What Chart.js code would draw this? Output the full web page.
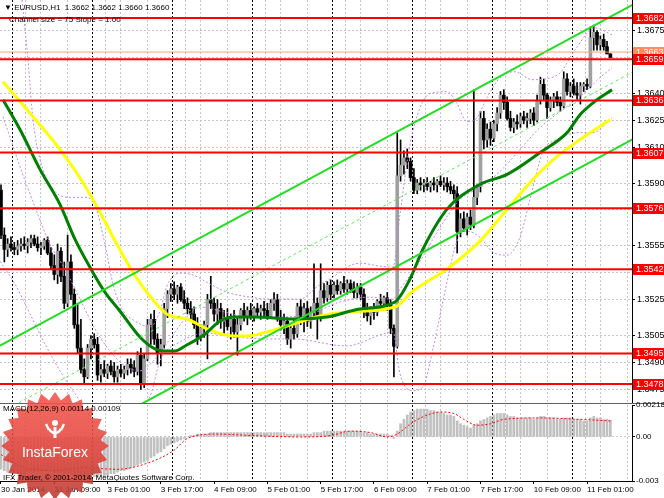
<!DOCTYPE html>
<html>
<head>
<meta charset="utf-8">
<script src="https://cdn.jsdelivr.net/npm/chart.js@4.4.1/dist/chart.umd.min.js"></script>
<style>
  body { margin:0; width:664px; height:498px; overflow:hidden; background:#fff; position:relative; font-family:"Liberation Sans", Arial, sans-serif; }
  canvas { position:absolute; left:0; }
  #main { top:0; }
  #macd { top:388px; }
  .lbl { position:absolute; font-size:8px; line-height:9px; color:#000; white-space:nowrap; }
</style>
</head>
<body>
<canvas id="main" width="664" height="404"></canvas>
<canvas id="macd" width="664" height="110"></canvas>
<div class="lbl" style="left:4px;top:3px">&#9660; EURUSD,H1&nbsp; 1.3662 1.3662 1.3660 1.3660</div>
<div class="lbl" style="left:9px;top:15px">Channel size = 75 Slope = 1.00</div>
<div class="lbl" style="left:3px;top:404px">MACD(12,26,9) 0.00114 0.00109</div>
<div class="lbl" style="left:3px;top:473px">IFX Trader, &copy; 2001-2014, MetaQuotes Software Corp.</div>
<script>
// EURUSD H1, one entry per hourly bar, bar 0 = 30 Jan 2014 17:00
var opens = [
 1.3586,1.3561,1.3553,1.3556,1.3554,1.3553,1.3555,1.3556,1.3555,1.3557,
 1.3559,1.3556,1.3554,1.3555,1.3558,1.3551,1.3544,1.3539,1.3552,1.3538,
 1.3523,1.3546,1.3528,1.3511,1.3498,1.3486,1.3482,1.3498,1.3503,1.3500,
 1.3483,1.3486,1.3484,1.3488,1.3485,1.3482,1.3486,1.3484,1.3486,1.3489,
 1.3487,1.3485,1.3494,1.3478,1.3492,1.3511,1.3514,1.3503,1.3495,1.3500,
 1.3520,1.3528,1.3531,1.3528,1.3532,1.3525,1.3523,1.3520,1.3517,1.3511,
 1.3504,1.3509,1.3511,1.3525,1.3523,1.3517,1.3520,1.3513,1.3515,1.3510,
 1.3514,1.3507,1.3511,1.3519,1.3515,1.3519,1.3516,1.3520,1.3518,1.3520,
 1.3519,1.3516,1.3523,1.3525,1.3515,1.3511,1.3513,1.3503,1.3509,1.3506,
 1.3521,1.3515,1.3520,1.3513,1.3518,1.3523,1.3515,1.3530,1.3526,1.3533,
 1.3528,1.3533,1.3530,1.3534,1.3531,1.3534,1.3531,1.3529,1.3532,1.3528,
 1.3519,1.3516,1.3520,1.3518,1.3524,1.3523,1.3526,1.3522,1.3509,1.3499,
 1.3594,1.3600,1.3604,1.3602,1.3593,1.3586,1.3590,1.3589,1.3590,1.3588,
 1.3590,1.3589,1.3591,1.3589,1.3590,1.3588,1.3586,1.3584,1.3563,1.3570,
 1.3565,1.3571,1.3567,1.3582,1.3588,1.3626,1.3614,1.3620,1.3615,1.3623,
 1.3629,1.3639,1.3635,1.3626,1.3621,1.3624,1.3623,1.3627,1.3625,1.3626,
 1.3629,1.3625,1.3636,1.3645,1.3639,1.3632,1.3636,1.3638,1.3635,1.3633,
 1.3648,1.3641,1.3644,1.3640,1.3639,1.3644,1.3645,1.3644,1.3671,1.3674,
 1.3667,1.3670,1.3666,1.3662
];
var highs = [
 1.3589,1.3565,1.3559,1.3560,1.3557,1.3558,1.3559,1.3560,1.3559,1.3561,
 1.3561,1.3560,1.3557,1.3559,1.3560,1.3554,1.3550,1.3556,1.3554,1.3546,
 1.3561,1.3550,1.3531,1.3523,1.3514,1.3492,1.3500,1.3505,1.3506,1.3504,
 1.3489,1.3491,1.3489,1.3491,1.3490,1.3488,1.3489,1.3488,1.3492,1.3492,
 1.3491,1.3496,1.3498,1.3495,1.3514,1.3517,1.3519,1.3506,1.3503,1.3523,
 1.3530,1.3534,1.3535,1.3533,1.3534,1.3530,1.3526,1.3524,1.3521,1.3515,
 1.3511,1.3513,1.3528,1.3538,1.3526,1.3525,1.3523,1.3519,1.3520,1.3517,
 1.3519,1.3515,1.3520,1.3523,1.3521,1.3523,1.3521,1.3523,1.3522,1.3524,
 1.3523,1.3525,1.3529,1.3528,1.3519,1.3517,1.3515,1.3511,1.3514,1.3523,
 1.3525,1.3523,1.3524,1.3521,1.3545,1.3526,1.3545,1.3534,1.3535,1.3536,
 1.3535,1.3536,1.3535,1.3538,1.3536,1.3536,1.3535,1.3534,1.3534,1.3531,
 1.3523,1.3521,1.3523,1.3525,1.3528,1.3527,1.3529,1.3525,1.3511,1.3618,
 1.3614,1.3608,1.3609,1.3604,1.3598,1.3592,1.3593,1.3592,1.3593,1.3591,
 1.3593,1.3592,1.3594,1.3593,1.3593,1.3591,1.3589,1.3588,1.3573,1.3574,
 1.3573,1.3575,1.3642,1.3589,1.3630,1.3630,1.3623,1.3624,1.3625,1.3632,
 1.3641,1.3642,1.3638,1.3630,1.3626,1.3628,1.3629,1.3630,1.3629,1.3631,
 1.3632,1.3639,1.3649,1.3648,1.3640,1.3638,1.3640,1.3641,1.3638,1.3652,
 1.3651,1.3646,1.3648,1.3646,1.3646,1.3646,1.3648,1.3677,1.3678,1.3675,
 1.3672,1.3673,1.3669,1.3662
];
var lows = [
 1.3559,1.3546,1.3549,1.3552,1.3550,1.3550,1.3552,1.3553,1.3551,1.3554,
 1.3555,1.3552,1.3550,1.3553,1.3550,1.3542,1.3536,1.3534,1.3535,1.3520,
 1.3521,1.3525,1.3509,1.3495,1.3484,1.3478,1.3481,1.3492,1.3498,1.3480,
 1.3479,1.3482,1.3481,1.3483,1.3479,1.3479,1.3482,1.3481,1.3483,1.3484,
 1.3482,1.3483,1.3475,1.3476,1.3491,1.3500,1.3500,1.3489,1.3488,1.3498,
 1.3515,1.3524,1.3525,1.3523,1.3524,1.3520,1.3517,1.3514,1.3509,1.3500,
 1.3502,1.3504,1.3492,1.3520,1.3513,1.3511,1.3509,1.3506,1.3508,1.3503,
 1.3504,1.3494,1.3508,1.3513,1.3511,1.3514,1.3513,1.3515,1.3514,1.3516,
 1.3514,1.3515,1.3519,1.3513,1.3508,1.3506,1.3500,1.3498,1.3503,1.3504,
 1.3511,1.3507,1.3510,1.3509,1.3514,1.3503,1.3513,1.3523,1.3524,1.3525,
 1.3526,1.3528,1.3528,1.3529,1.3528,1.3529,1.3526,1.3526,1.3525,1.3515,
 1.3513,1.3511,1.3514,1.3516,1.3520,1.3521,1.3519,1.3506,1.3482,1.3498,
 1.3591,1.3595,1.3598,1.3591,1.3584,1.3584,1.3586,1.3585,1.3586,1.3585,
 1.3586,1.3585,1.3588,1.3586,1.3585,1.3584,1.3581,1.3551,1.3560,1.3563,
 1.3561,1.3564,1.3565,1.3578,1.3585,1.3609,1.3610,1.3611,1.3613,1.3619,
 1.3626,1.3631,1.3625,1.3619,1.3618,1.3620,1.3621,1.3623,1.3621,1.3623,
 1.3622,1.3624,1.3634,1.3636,1.3626,1.3630,1.3632,1.3633,1.3630,1.3632,
 1.3639,1.3638,1.3639,1.3636,1.3634,1.3641,1.3642,1.3643,1.3664,1.3664,
 1.3664,1.3664,1.3662,1.3660
];
var closes = [
 1.3561,1.3553,1.3556,1.3554,1.3553,1.3555,1.3556,1.3555,1.3557,1.3559,
 1.3556,1.3554,1.3555,1.3558,1.3551,1.3544,1.3539,1.3552,1.3538,1.3523,
 1.3546,1.3528,1.3511,1.3498,1.3486,1.3482,1.3498,1.3503,1.3500,1.3483,
 1.3486,1.3484,1.3488,1.3485,1.3482,1.3486,1.3484,1.3486,1.3489,1.3487,
 1.3485,1.3494,1.3478,1.3492,1.3511,1.3514,1.3503,1.3495,1.3500,1.3520,
 1.3528,1.3531,1.3528,1.3532,1.3525,1.3523,1.3520,1.3517,1.3511,1.3504,
 1.3509,1.3511,1.3525,1.3523,1.3517,1.3520,1.3513,1.3515,1.3510,1.3514,
 1.3507,1.3511,1.3519,1.3515,1.3519,1.3516,1.3520,1.3518,1.3520,1.3519,
 1.3516,1.3523,1.3525,1.3515,1.3511,1.3513,1.3503,1.3509,1.3506,1.3521,
 1.3515,1.3520,1.3513,1.3518,1.3523,1.3515,1.3530,1.3526,1.3533,1.3528,
 1.3533,1.3530,1.3534,1.3531,1.3534,1.3531,1.3529,1.3532,1.3528,1.3519,
 1.3516,1.3520,1.3518,1.3524,1.3523,1.3526,1.3522,1.3509,1.3499,1.3594,
 1.3600,1.3604,1.3602,1.3593,1.3586,1.3590,1.3589,1.3590,1.3588,1.3590,
 1.3589,1.3591,1.3589,1.3590,1.3588,1.3586,1.3584,1.3563,1.3570,1.3565,
 1.3571,1.3567,1.3582,1.3588,1.3626,1.3614,1.3620,1.3615,1.3623,1.3629,
 1.3639,1.3635,1.3626,1.3621,1.3624,1.3623,1.3627,1.3625,1.3626,1.3629,
 1.3625,1.3636,1.3645,1.3639,1.3632,1.3636,1.3638,1.3635,1.3633,1.3648,
 1.3641,1.3644,1.3640,1.3639,1.3644,1.3645,1.3644,1.3671,1.3674,1.3667,
 1.3670,1.3666,1.3662,1.3660
];

// moving averages at a few bars
var greenBars   = [0.6, 5.7, 11.7, 17.7, 22.2, 26.7, 31.2, 35.7, 41.7, 46.2, 49.2, 52.3, 55.3, 61.3, 65.8, 70.3, 76.3, 87.7, 97.9, 107.8, 118.3, 122.8, 126.7, 133.9, 143.8, 152, 161.9, 170, 173.9, 179, 183.5];
var greenPrices = [1.36364, 1.36198, 1.35976, 1.35781, 1.35587, 1.35431, 1.35292, 1.35187, 1.35042, 1.34976, 1.34964, 1.34964, 1.34992, 1.35059, 1.35131, 1.35153, 1.35153, 1.35142, 1.35153, 1.35198, 1.35237, 1.35364, 1.35531, 1.35753, 1.35892, 1.35948, 1.3607, 1.36181, 1.36281, 1.36364, 1.3642];
var yellowBars   = [0.6, 7.8, 17.7, 24.6, 29.7, 34.8, 39.6, 44.7, 49.8, 55.9, 61.9, 69.7, 73.9, 79.9, 85.9, 95.8, 103.9, 118.3, 123.7, 133.9, 143.8, 152, 158.9, 167, 173.9, 182.9];
var yellowPrices = [1.36464, 1.36309, 1.36087, 1.35903, 1.35737, 1.35559, 1.35403, 1.3527, 1.3517, 1.35142, 1.35087, 1.35048, 1.35048, 1.3507, 1.35103, 1.35159, 1.35181, 1.35209, 1.35298, 1.3542, 1.35576, 1.35753, 1.35903, 1.36048, 1.36142, 1.36253];

// Bollinger bands (violet dots): upper, middle, lower
var upperBars   = [6.31, 8.11, 9.61, 12.61, 16.22, 20.72, 25.23, 28.23, 31.23, 33.63, 36.34, 40.24, 44.74, 47.75, 49.85, 53.75, 57.66, 62.76, 67.87, 74.77, 81.68, 89.79, 95.2, 99.7, 103.9, 107.81, 113.81, 117.72, 119.82, 122.82, 125.83, 128.83, 133.93, 136.94, 139.94, 142.94, 145.95, 149.85, 154.35, 159.46, 167.27, 172.37, 178.38, 183.48];
var upperPrices = [1.3692, 1.36587, 1.36253, 1.35976, 1.35853, 1.3582, 1.3582, 1.35776, 1.35559, 1.35337, 1.35198, 1.35131, 1.35098, 1.35187, 1.35326, 1.35398, 1.35387, 1.35337, 1.35292, 1.35264, 1.35253, 1.35253, 1.35326, 1.35376, 1.35431, 1.35453, 1.35437, 1.35431, 1.35726, 1.36114, 1.3632, 1.36398, 1.36409, 1.36342, 1.36242, 1.36264, 1.36376, 1.36487, 1.3652, 1.36476, 1.36503, 1.36642, 1.36764, 1.36726];
var middleBars   = [0.6, 5.71, 10.81, 14.71, 19.22, 23.72, 28.23, 32.73, 37.24, 41.74, 46.25, 50.75, 55.26, 59.76, 65.77, 74.77, 83.78, 92.79, 101.8, 110.81, 117.72, 119.82, 125.83, 131.83, 137.84, 143.84, 149.85, 155.86, 161.86, 167.87, 173.87, 179.88, 183.48];
var middlePrices = [1.3627, 1.35992, 1.35737, 1.35559, 1.3542, 1.35253, 1.35087, 1.34964, 1.34881, 1.34853, 1.3492, 1.35031, 1.35142, 1.35209, 1.35187, 1.35153, 1.35153, 1.3517, 1.35237, 1.35264, 1.35253, 1.35309, 1.35464, 1.35653, 1.35809, 1.35876, 1.35964, 1.36087, 1.36209, 1.36298, 1.36381, 1.36487, 1.36542];
var lowerBars   = [-0.3, 4.2, 8.71, 13.21, 17.72, 22.22, 26.73, 38.74, 44.74, 47.75, 53.75, 61.86, 67.87, 79.88, 87.69, 103.9, 113.81, 117.72, 119.82, 123.72, 126.73, 129.73, 133.93, 136.94, 139.94, 143.84, 147.75, 151.95, 155.86, 158.86, 162.76, 166.97, 173.87, 177.78, 183.48];
var lowerPrices = [1.35464, 1.35337, 1.3517, 1.35003, 1.34853, 1.34726, 1.34631, 1.34631, 1.34709, 1.34909, 1.35014, 1.35064, 1.35048, 1.35031, 1.35031, 1.34992, 1.35053, 1.3507, 1.34837, 1.34742, 1.34764, 1.34976, 1.35348, 1.35576, 1.35631, 1.35598, 1.35514, 1.35498, 1.35598, 1.35809, 1.36076, 1.36142, 1.36181, 1.36181, 1.36264];

// equidistant channel, 75 pips wide, slope 1 pip per bar
var chanBars   = [-1, 190];
var chanUpper  = [1.34987, 1.36897];
var chanMiddle = [1.34612, 1.36522];
var chanLower  = [1.34237, 1.36147];

// horizontal levels
var levels = [1.3682, 1.3659, 1.3636, 1.3607, 1.3576, 1.3542, 1.3495, 1.3478];
var askPrice = 1.3663;

// MACD(12,26,9) main value per bar, signal at a few bars
var macdHist = [
 -0.0022,-0.0023,-0.0024,-0.0024,-0.0025,-0.0025,-0.0025,-0.0025,-0.0024,-0.0024,
 -0.0024,-0.0023,-0.0023,-0.0023,-0.0023,-0.0023,-0.0024,-0.0024,-0.0024,-0.0025,
 -0.0025,-0.0025,-0.0026,-0.0026,-0.0027,-0.0027,-0.0027,-0.0027,-0.0027,-0.0027,
 -0.0027,-0.0027,-0.0026,-0.0025,-0.0025,-0.0024,-0.0023,-0.0023,-0.0022,-0.0021,
 -0.0020,-0.0019,-0.0018,-0.0017,-0.0016,-0.0014,-0.0013,-0.0011,-0.0010,-0.0008,
 -0.0006,-0.0005,-0.0004,-0.0003,-0.0002,-0.0001,0.0000,0.0001,0.0001,0.0002,
 0.0002,0.0002,0.0002,0.0003,0.0003,0.0003,0.0003,0.0003,0.0003,0.0003,
 0.0003,0.0003,0.0003,0.0003,0.0003,0.0003,0.0003,0.0003,0.0003,0.0003,
 0.0003,0.0003,0.0003,0.0003,0.0003,0.0003,0.0002,0.0002,0.0002,0.0002,
 0.0002,0.0002,0.0002,0.0002,0.0003,0.0003,0.0003,0.0004,0.0004,0.0004,
 0.0004,0.0004,0.0004,0.0004,0.0004,0.0004,0.0004,0.0004,0.0004,0.0003,
 0.0003,0.0002,0.0002,0.0002,0.0002,0.0002,0.0002,0.0001,-0.0001,0.0004,
 0.0009,0.0012,0.0015,0.0017,0.0018,0.0019,0.0019,0.0019,0.0019,0.0018,
 0.0018,0.0017,0.0017,0.0016,0.0015,0.0015,0.0014,0.0011,0.0009,0.0008,
 0.0007,0.0006,0.0008,0.0009,0.0011,0.0012,0.0013,0.0014,0.0015,0.0016,
 0.0016,0.0016,0.0015,0.0014,0.0014,0.0013,0.0013,0.0013,0.0013,0.0013,
 0.0012,0.0013,0.0014,0.0014,0.0013,0.0013,0.0013,0.0012,0.0012,0.0013,
 0.0013,0.0013,0.0012,0.0012,0.0012,0.0011,0.0011,0.0013,0.0014,0.0013,
 0.0013,0.0012,0.0012,0.00114
];
var signalBars   = [0, 6, 15, 25, 35, 45, 52, 56, 65, 75, 90, 99, 105, 111, 116, 119, 123, 127, 132, 136, 139, 143, 147, 151, 162, 174, 183];
var signalValues = [-0.0012, -0.0020, -0.0023, -0.0021, -0.0022, -0.0017, -0.0009, -0.0001, 0.0002, 0.0001, 0.0000, 0.0001, 0.0004, 0.0003, 0.0000, 0.0002, 0.0009, 0.0014, 0.0017, 0.0016, 0.0012, 0.0008, 0.0009, 0.0012, 0.0013, 0.0012, 0.00109];

// axes
var priceTicks = [1.3675, 1.3660, 1.3640, 1.3625, 1.3610, 1.3590, 1.3575, 1.3555, 1.3540, 1.3525, 1.3505, 1.3490, 1.3475];
var tickBars   = [0, 16, 32, 48, 64, 80, 96, 112, 128, 144, 160, 176];
var tickLabels = ['30 Jan 2014', '31 Jan 09:00', '3 Feb 01:00', '3 Feb 17:00', '4 Feb 09:00', '5 Feb 01:00', '5 Feb 17:00', '6 Feb 09:00', '7 Feb 01:00', '7 Feb 17:00', '10 Feb 09:00', '11 Feb 01:00'];
var dayStarts  = [7, 31, 55, 79, 103, 127, 151, 175];
var macdTicks  = [-0.003, 0, 0.00218];
var macdLabels = ['-0.003', '0.00', '0.00218'];

var xMin = -0.3, xMax = 189.5;
var FONT = '"Liberation Sans", Arial, sans-serif';
Chart.defaults.font.family = FONT;

var gridTicks = [];
for (var g = 0; g <= 188; g += 8) gridTicks.push(g);
gridTicks = gridTicks.concat(dayStarts).sort(function(a, b){ return a - b; });

function pts(xs, ys){
	var out = [];
	for (var i = 0; i < xs.length; i++) out.push({x: xs[i], y: ys[i]});
	return out;
}

// vertical grid only, no labels
function gridAxis(){
	return {
		type: 'linear', min: xMin, max: xMax, offset: false,
		afterBuildTicks: function(s){ s.ticks = gridTicks.map(function(v){ return {value: v}; }); },
		afterFit: function(s){ s.height = 0; s.paddingLeft = 0; s.paddingRight = 0; },
		grid: {
			color: function(c){ return c.tick && dayStarts.indexOf(c.tick.value) >= 0 ? '#000' : '#c4c4c4'; },
			lineWidth: 1, drawTicks: false
		},
		border: { display: false, dash: [2, 2] },
		ticks: { display: false }
	};
}

var bull = '#a0a0a0', bear = '#000000';
var bandColor = '#c585f0';

var levelTags = {
	id: 'levelTags',
	afterDraw: function(chart){
		var ctx = chart.ctx, y = chart.scales.y, a = chart.chartArea, x0 = a.right + 1;
		ctx.save();
		// panel separator
		ctx.fillStyle = '#606060';
		ctx.fillRect(0, a.bottom, 664, 1);
		ctx.font = '9px ' + FONT;
		ctx.textBaseline = 'middle';
		var tags = [{p: askPrice, bg: '#ff8c5a'}].concat(levels.map(function(p){ return {p: p, bg: '#ff0000'}; }));
		tags.forEach(function(t){
			var py = Math.round(y.getPixelForValue(t.p));
			ctx.fillStyle = t.bg;
			ctx.fillRect(x0, py - 5, 664 - x0, 11);
			ctx.fillStyle = '#fff';
			ctx.fillText(t.p.toFixed(4), x0 + 3, py + 0.5);
		});
		ctx.restore();
	}
};

// InstaForex badge, sits over the MACD bars and under the time labels
var badge = {
	id: 'badge',
	afterDatasetsDraw: function(chart){
		var c = chart.ctx, top = 388;
		var cx = 55, cy = 446 - top, ro = 54, ri = 46, n = 24;
		c.save();
		c.globalAlpha = 0.88;
		c.beginPath();
		for (var i = 0; i < n * 2; i++) {
			var r = i % 2 ? ri : ro;
			var ang = -Math.PI / 2 + i * Math.PI / n;
			var px = cx + r * Math.cos(ang), py = cy + r * Math.sin(ang);
			if (i === 0) c.moveTo(px, py); else c.lineTo(px, py);
		}
		c.closePath();
		var grd = c.createLinearGradient(0, cy - ro, 0, cy + ro);
		grd.addColorStop(0, '#f25349');
		grd.addColorStop(0.55, '#e2453c');
		grd.addColorStop(1, '#b9392f');
		c.fillStyle = grd;
		c.fill();
		c.globalAlpha = 1;
		c.fillStyle = '#fff';
		c.strokeStyle = '#fff';
		c.beginPath(); c.arc(cx, 423 - top, 3, 0, Math.PI * 2); c.fill();
		c.fillRect(cx - 1.5, 427 - top, 3, 11);
		c.lineWidth = 2.5;
		c.beginPath(); c.arc(cx, 427 - top, 6, Math.PI * 0.1, Math.PI * 0.9); c.stroke();
		c.beginPath();
		c.moveTo(cx - 9, 424 - top); c.lineTo(cx - 6, 430 - top);
		c.moveTo(cx + 9, 424 - top); c.lineTo(cx + 6, 430 - top);
		c.stroke();
		c.font = '14px ' + FONT;
		c.textAlign = 'center';
		c.textBaseline = 'middle';
		c.fillText('InstaForex', cx, 453 - top);
		c.restore();
	}
};

var lineSet = function(label, data, color, width, dash, order, smooth){
	return {
		type: 'line', label: label, data: data, borderColor: color, borderWidth: width,
		borderDash: dash || [], pointRadius: 0, fill: false, order: order,
		tension: smooth ? 0.4 : 0, cubicInterpolationMode: smooth ? 'monotone' : 'default'
	};
};

var mainSets = [
	{
		type: 'bar', label: 'wicks', grouped: false, order: 20,
		data: closes.map(function(c, i){ return {x: i, y: [lows[i], highs[i]]}; }),
		backgroundColor: '#000', barThickness: 1, borderWidth: 0
	},
	{
		type: 'bar', label: 'bodies', grouped: false, order: 19, minBarLength: 1,
		data: closes.map(function(c, i){ return {x: i, y: [opens[i], c]}; }),
		backgroundColor: closes.map(function(c, i){ return c >= opens[i] ? bull : bear; }),
		barThickness: 3, borderWidth: 0
	},
	lineSet('upper band', pts(upperBars, upperPrices), bandColor, 1, [2, 2], 10, true),
	lineSet('middle band', pts(middleBars, middlePrices), bandColor, 1, [2, 2], 10, true),
	lineSet('lower band', pts(lowerBars, lowerPrices), bandColor, 1, [2, 2], 10, true),
	lineSet('slow MA', pts(yellowBars, yellowPrices), '#ffff00', 3, null, 9, true),
	lineSet('fast MA', pts(greenBars, greenPrices), '#008000', 3, null, 8, true),
	lineSet('channel top', pts(chanBars, chanUpper), '#22dd22', 2, null, 6, false),
	lineSet('channel mid', pts(chanBars, chanMiddle), '#55ee55', 1, [3, 3], 6, false),
	lineSet('channel bottom', pts(chanBars, chanLower), '#22dd22', 2, null, 6, false),
	lineSet('ask', pts([xMin, xMax], [askPrice, askPrice]), '#ffa07a', 1, null, 5, false)
];
levels.forEach(function(p){
	mainSets.push(lineSet('level ' + p, pts([xMin, xMax], [p, p]), '#ff0000', 2, null, 4, false));
});

new Chart(document.getElementById('main'), {
	data: { datasets: mainSets },
	options: {
		responsive: false, animation: false, devicePixelRatio: 1,
		layout: { padding: { left: 0, right: 0, top: 0, bottom: 1 } },
		plugins: { legend: { display: false }, tooltip: { enabled: false } },
		scales: {
			x: gridAxis(),
			y: {
				position: 'right', min: 1.34674, max: 1.3692,
				afterBuildTicks: function(s){ s.ticks = priceTicks.map(function(v){ return {value: v}; }); },
				afterFit: function(s){ s.width = 32; s.paddingTop = 0; s.paddingBottom = 0; },
				grid: { color: '#c4c4c4', drawTicks: true, tickLength: 3, tickColor: '#000' },
				border: { display: true, color: '#000', dash: [2, 2] },
				ticks: { padding: 2, color: '#000', font: { size: 9, family: FONT }, callback: function(v){ return v.toFixed(4); } }
			}
		}
	},
	plugins: [levelTags]
});

new Chart(document.getElementById('macd'), {
	data: {
		datasets: [
			{
				type: 'bar', label: 'MACD', grouped: false, order: 2,
				data: macdHist.map(function(v, i){ return {x: i, y: v}; }),
				backgroundColor: '#c0c0c0', barThickness: 2, borderWidth: 0
			},
			lineSet('signal', pts(signalBars, signalValues), '#ff0000', 1, [2, 2], 1, true)
		]
	},
	options: {
		responsive: false, animation: false, devicePixelRatio: 1,
		layout: { padding: { left: 0, right: 0, top: 17, bottom: 0 } },
		plugins: { legend: { display: false }, tooltip: { enabled: false } },
		scales: {
			x: gridAxis(),
			xl: {
				axis: 'x', type: 'linear', position: 'bottom', min: xMin, max: xMax, offset: false, z: 1,
				afterBuildTicks: function(s){ s.ticks = tickBars.map(function(v){ return {value: v}; }); },
				afterFit: function(s){ s.height = 17; s.paddingLeft = 0; s.paddingRight = 0; },
				grid: { drawOnChartArea: false, drawTicks: true, tickLength: 3, color: '#000' },
				border: { display: true, color: '#000' },
				ticks: {
					autoSkip: false, maxRotation: 0, minRotation: 0, align: 'start', padding: 1,
					color: '#000', font: { size: 8, family: FONT },
					callback: function(v){ var k = tickBars.indexOf(v); return k >= 0 ? tickLabels[k] : ''; }
				}
			},
			y: {
				position: 'right', min: -0.003, max: 0.00218,
				afterBuildTicks: function(s){ s.ticks = macdTicks.map(function(v){ return {value: v}; }); },
				afterFit: function(s){ s.width = 32; s.paddingTop = 0; s.paddingBottom = 0; },
				grid: {
					color: function(c){ return c.tick && c.tick.value === 0 ? '#c4c4c4' : 'rgba(0,0,0,0)'; },
					drawTicks: true, tickLength: 3, tickColor: '#000'
				},
				border: { display: true, color: '#000', dash: [2, 2] },
				ticks: {
					padding: 1, color: '#000', font: { size: 8, family: FONT },
					callback: function(v){ var k = macdTicks.indexOf(v); return k >= 0 ? macdLabels[k] : ''; }
				}
			}
		}
	},
	plugins: [badge]
});
</script>
</body>
</html>
